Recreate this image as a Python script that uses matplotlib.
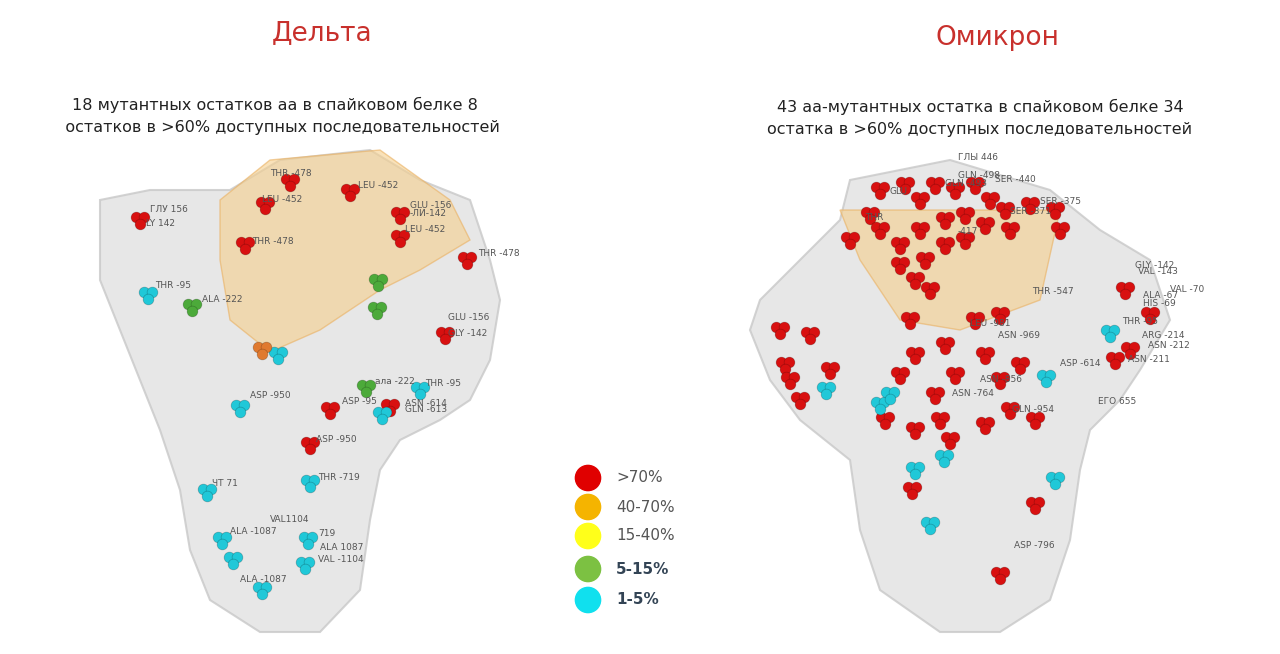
import matplotlib
matplotlib.use("Agg")
import matplotlib.pyplot as plt
from matplotlib.patches import Polygon

plt.rcParams['font.family'] = ['DejaVu Sans']

# ---- data ----
titles = ["Дельта", "Омикрон"]
subtitles = ["18 мутантных остатков аа в спайковом белке 8\n   остатков в >60% доступных последовательностей",
             "43 аа-мутантных остатка в спайковом белке 34\nостатка в >60% доступных последовательностей"]
legend_labels = [">70%", "40-70%", "15-40%", "5-15%", "1-5%"]
legend_colors = ["#e00000", "#f5b400", "#ffff1a", "#7cc142", "#10e0ee"]

delta_red = [(140,220),(290,182),(350,192),(265,205),(245,245),(400,215),(400,238),(467,260),
             (445,335),(330,410),(390,407),(310,445)]
delta_cyan = [(148,295),(278,355),(240,408),(420,390),(382,415),(207,492),(310,483),(222,540),
              (233,560),(308,540),(305,565),(262,590)]
delta_green = [(192,307),(378,282),(377,310),(366,388)]
delta_orange = [(262,350)]
delta_labels = [("ГЛУ 156",150,210),("LY 142",146,224),("THR -478",270,174),("LEU -452",358,186),
                ("LEU -452",262,199),("GLU -156",410,205),("-ЛИ-142",410,214),("LEU -452",405,230),
                ("THR -478",478,254),("THR -478",252,241),("THR -95",155,285),("ALA -222",202,300),
                ("GLU -156",448,318),("GLY -142",448,333),("ала -222",375,381),("THR -95",425,384),
                ("ASP -950",250,395),("ASP -95",342,402),("ASN -614",405,403),("GLN -613",405,410),
                ("ASP -950",316,439),("THR -719",318,478),("ЧТ 71",212,484),("ALA -1087",230,532),
                ("VAL1104",270,520),("719",318,533),("ALA 1087",320,548),("VAL -1104",318,560),
                ("ALA -1087",240,580)]

omi_red = [(850,240),(870,215),(880,190),(905,185),(920,200),(935,185),(955,190),(975,185),(990,200),
           (1005,210),(1030,205),(1055,210),(1060,230),(880,230),(900,245),(920,230),(945,220),
           (965,215),(985,225),(1010,230),(900,265),(925,260),(945,245),(965,240),(930,290),(915,280),
           (780,330),(785,365),(800,400),(790,380),(810,335),(830,370),(910,320),(945,345),(975,320),
           (1000,315),(915,355),(955,375),(985,355),(1000,380),(1020,365),(900,375),(935,395),(940,420),
           (1010,410),(1035,420),(915,430),(885,420),(950,440),(985,425),(912,490),(1035,505),(1000,575),
           (1125,290),(1150,315),(1130,350),(1115,360)]
omi_cyan = [(826,390),(880,405),(944,458),(1046,378),(1110,333),(1055,480),(930,525),(915,470),(890,395)]
omi_labels = [("ГЛЫ 446",958,158),("GLN -498",958,176),("GLN -493",945,184),("SER -440",995,180),
              ("GLU",890,192),("SER -375",1040,202),("THR",865,218),("SER -371",1010,212),
              ("-417",958,232),("THR -547",1032,291),("GLY -142",1135,265),("VAL -143",1138,272),
              ("VAL -70",1170,290),("ALA -67",1143,296),("HIS -69",1143,304),("THR -95",1122,322),
              ("ARG -214",1142,336),("ASN -212",1148,346),("ASN -211",1128,359),("LEU -981",970,323),
              ("ASN -969",998,336),("ASN -856",980,380),("ASP -614",1060,364),("ASN -764",952,394),
              ("GLN -954",1012,410),("ЕГО 655",1098,402),("ASP -796",1014,546)]

delta_outline = [(100,200),(150,190),(230,190),(280,160),(370,150),(420,180),(470,200),(490,260),
                 (500,300),(490,360),(470,400),(440,420),(400,440),(380,470),(370,520),(360,590),
                 (320,632),(260,632),(210,600),(190,550),(180,490),(160,430),(140,380),(120,330),(100,280)]
delta_orange_region = [(220,200),(270,160),(380,150),(450,200),(470,240),(420,270),(380,290),
                       (320,330),(270,352),(230,320),(220,260)]
omi_outline = [(760,300),(800,260),(840,220),(850,180),(950,160),(1050,190),(1100,230),(1150,260),
               (1170,320),(1140,370),(1120,400),(1090,430),(1080,470),(1070,540),(1050,600),
               (1000,632),(940,632),(880,590),(860,530),(850,460),(800,420),(770,380),(750,330)]
omi_orange_region = [(840,210),(1060,210),(1040,300),(960,330),(900,320),(860,260)]

fig = plt.figure(figsize=(12.8, 6.54), dpi=100)
ax = fig.add_axes([0, 0, 1, 1])
ax.set_xlim(0, 1280); ax.set_ylim(654, 0); ax.axis('off')

for outline, orng in [(delta_outline, delta_orange_region), (omi_outline, omi_orange_region)]:
    ax.add_patch(Polygon(outline, closed=True, fc="#e2e2e2", ec="#c8c8c8", lw=1.5, alpha=0.8))
    ax.add_patch(Polygon(orng, closed=True, fc="#f6cf8c", ec="#eab060", lw=1, alpha=0.6))

offs = [(-4,-3),(4,-3),(0,4)]
def cluster(pts, color, ax=ax):
    xs = [p[0]+o[0] for p in pts for o in offs]
    ys = [p[1]+o[1] for p in pts for o in offs]
    ax.scatter(xs, ys, s=60, c=color, edgecolors="#00000040", linewidths=0.5, zorder=3)

cluster(delta_red, "#d81010"); cluster(delta_cyan, "#20c8d8")
cluster(delta_green, "#4caa3a"); cluster(delta_orange, "#e07a30")
cluster(omi_red, "#d81010"); cluster(omi_cyan, "#20c8d8")

for t, x, y in delta_labels + omi_labels:
    ax.text(x, y, t, fontsize=6.5, color="#555555", ha="left", va="center", zorder=4)

ax.text(322, 33, titles[0], fontsize=19, color="#c8302c", ha="center", va="center")
ax.text(997, 38, titles[1], fontsize=19, color="#c8302c", ha="center", va="center")
ax.text(275, 116, subtitles[0], fontsize=11.5, color="#222222", ha="center", va="center", linespacing=1.6)
ax.text(980, 118, subtitles[1], fontsize=11.5, color="#222222", ha="center", va="center", linespacing=1.6)

ly = [478, 507, 536, 569, 600]
ax.scatter([588]*5, ly, s=330, c=legend_colors, zorder=3)
for i, (lab, y) in enumerate(zip(legend_labels, ly)):
    ax.text(616, y, lab, fontsize=11, color="#555555" if i < 3 else "#334455",
            fontweight="bold" if i >= 3 else "normal", va="center")

fig.savefig("out.png", dpi=100)
